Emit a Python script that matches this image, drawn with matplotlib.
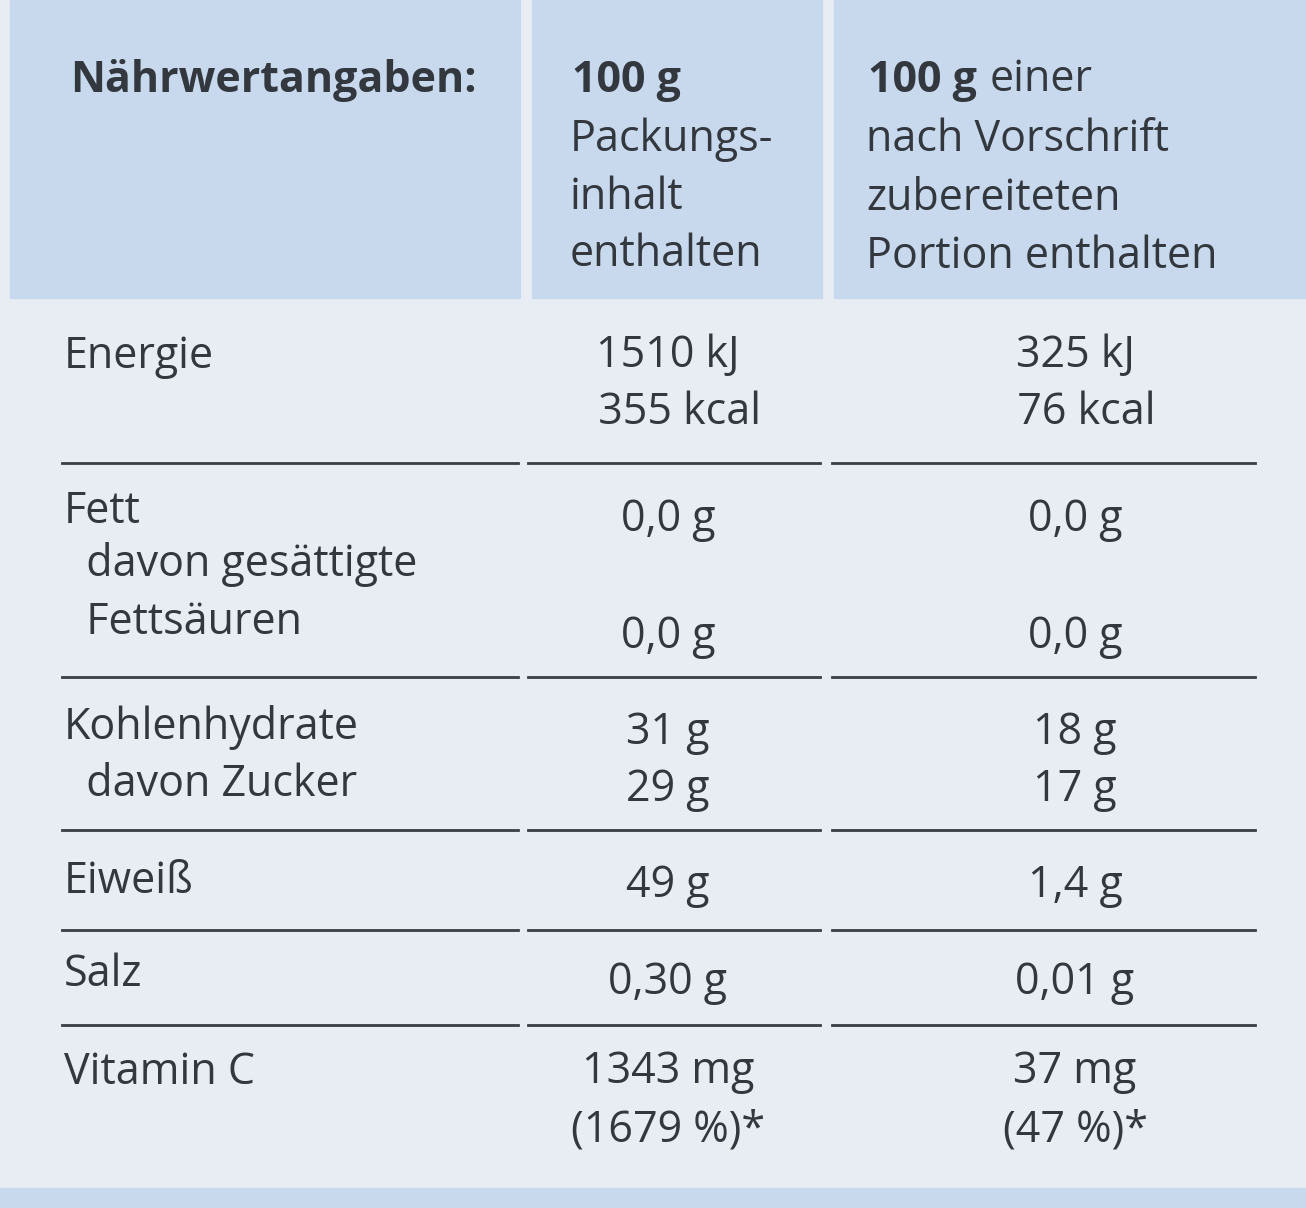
import matplotlib
matplotlib.use("Agg")
import matplotlib.pyplot as plt
from matplotlib.patches import Rectangle

header_label = "Nährwertangaben:"
header_col2 = ["Packungs-", "inhalt", "enthalten"]
header_col3 = ["nach Vorschrift", "zubereiteten", "Portion enthalten"]
row_labels = ["Energie", "Fett", "  davon gesättigte\n  Fettsäuren", "Kohlenhydrate",
              "  davon Zucker", "Eiweiß", "Salz", "Vitamin C"]
col2_values = ["1510 kJ\n  355 kcal", "0,0 g", "0,0 g", "31 g", "29 g", "49 g", "0,30 g",
               "1343 mg\n(1679 %)*"]
col3_values = ["325 kJ\n  76 kcal", "0,0 g", "0,0 g", "18 g", "17 g", "1,4 g", "0,01 g",
               "37 mg\n(47 %)*"]

# layout (pixels)
label_y = [357, 512, 572, 727, 785, 882, 975, 1073]
value_y = [363, 520, 637, 733, 790, 886, 983, 1080]
sep_y = [463, 677, 830, 930, 1025]
col_spans = [(62, 518), (528, 820), (832, 1255)]

fig = plt.figure(figsize=(13.06, 12.08), dpi=100)
ax = fig.add_axes([0, 0, 1, 1])
ax.set_xlim(0, 1306); ax.set_ylim(1208, 0); ax.axis("off")
fig.patch.set_facecolor("#e8edf4")

for x0, x1 in [(10, 520), (532, 822), (834, 1306)]:
    ax.add_patch(Rectangle((x0, 0), x1 - x0, 298, color="#c8d9ee", zorder=0))
ax.add_patch(Rectangle((0, 1188), 1306, 20, color="#c8d9ee", zorder=0))

col = "#33383e"
fs = 31
fam = ["Open Sans", "DejaVu Sans"]
ls = 1.4
ax.text(70, 80, header_label, fontsize=fs, fontweight="bold", color=col, va="center", family=fam)
ax.text(572, 80, "100 g", fontsize=fs, fontweight="bold", color=col, va="center", family=fam)
ax.text(868, 80, "100 g", fontsize=fs, fontweight="bold", color=col, va="center", family=fam)
ax.text(990, 80, "einer", fontsize=fs, color=col, va="center", family=fam)
for i, t in enumerate(header_col2):
    ax.text(570, 140 + 57.5 * i, t, fontsize=fs, color=col, va="center", family=fam)
for i, t in enumerate(header_col3):
    ax.text(866, 140 + 58.5 * i, t, fontsize=fs, color=col, va="center", family=fam)

for lab, y in zip(row_labels, label_y):
    if "\n" in lab:
        ax.text(64, y - 30, lab, fontsize=fs, color=col, va="top", family=fam, linespacing=ls)
    else:
        ax.text(64, y, lab, fontsize=fs, color=col, va="center", family=fam)

for v2, v3, y in zip(col2_values, col3_values, value_y):
    ax.text(668, y - 30 if "\n" in v2 else y, v2, fontsize=fs, color=col,
            va="top" if "\n" in v2 else "center", ha="center", family=fam, linespacing=ls)
    ax.text(1075, y - 30 if "\n" in v3 else y, v3, fontsize=fs, color=col,
            va="top" if "\n" in v3 else "center", ha="center", family=fam, linespacing=ls)

for y in sep_y:
    for x0, x1 in col_spans:
        ax.plot([x0, x1], [y, y], color="#3a3f45", lw=2)

fig.savefig("out.png", dpi=100, facecolor=fig.get_facecolor())
